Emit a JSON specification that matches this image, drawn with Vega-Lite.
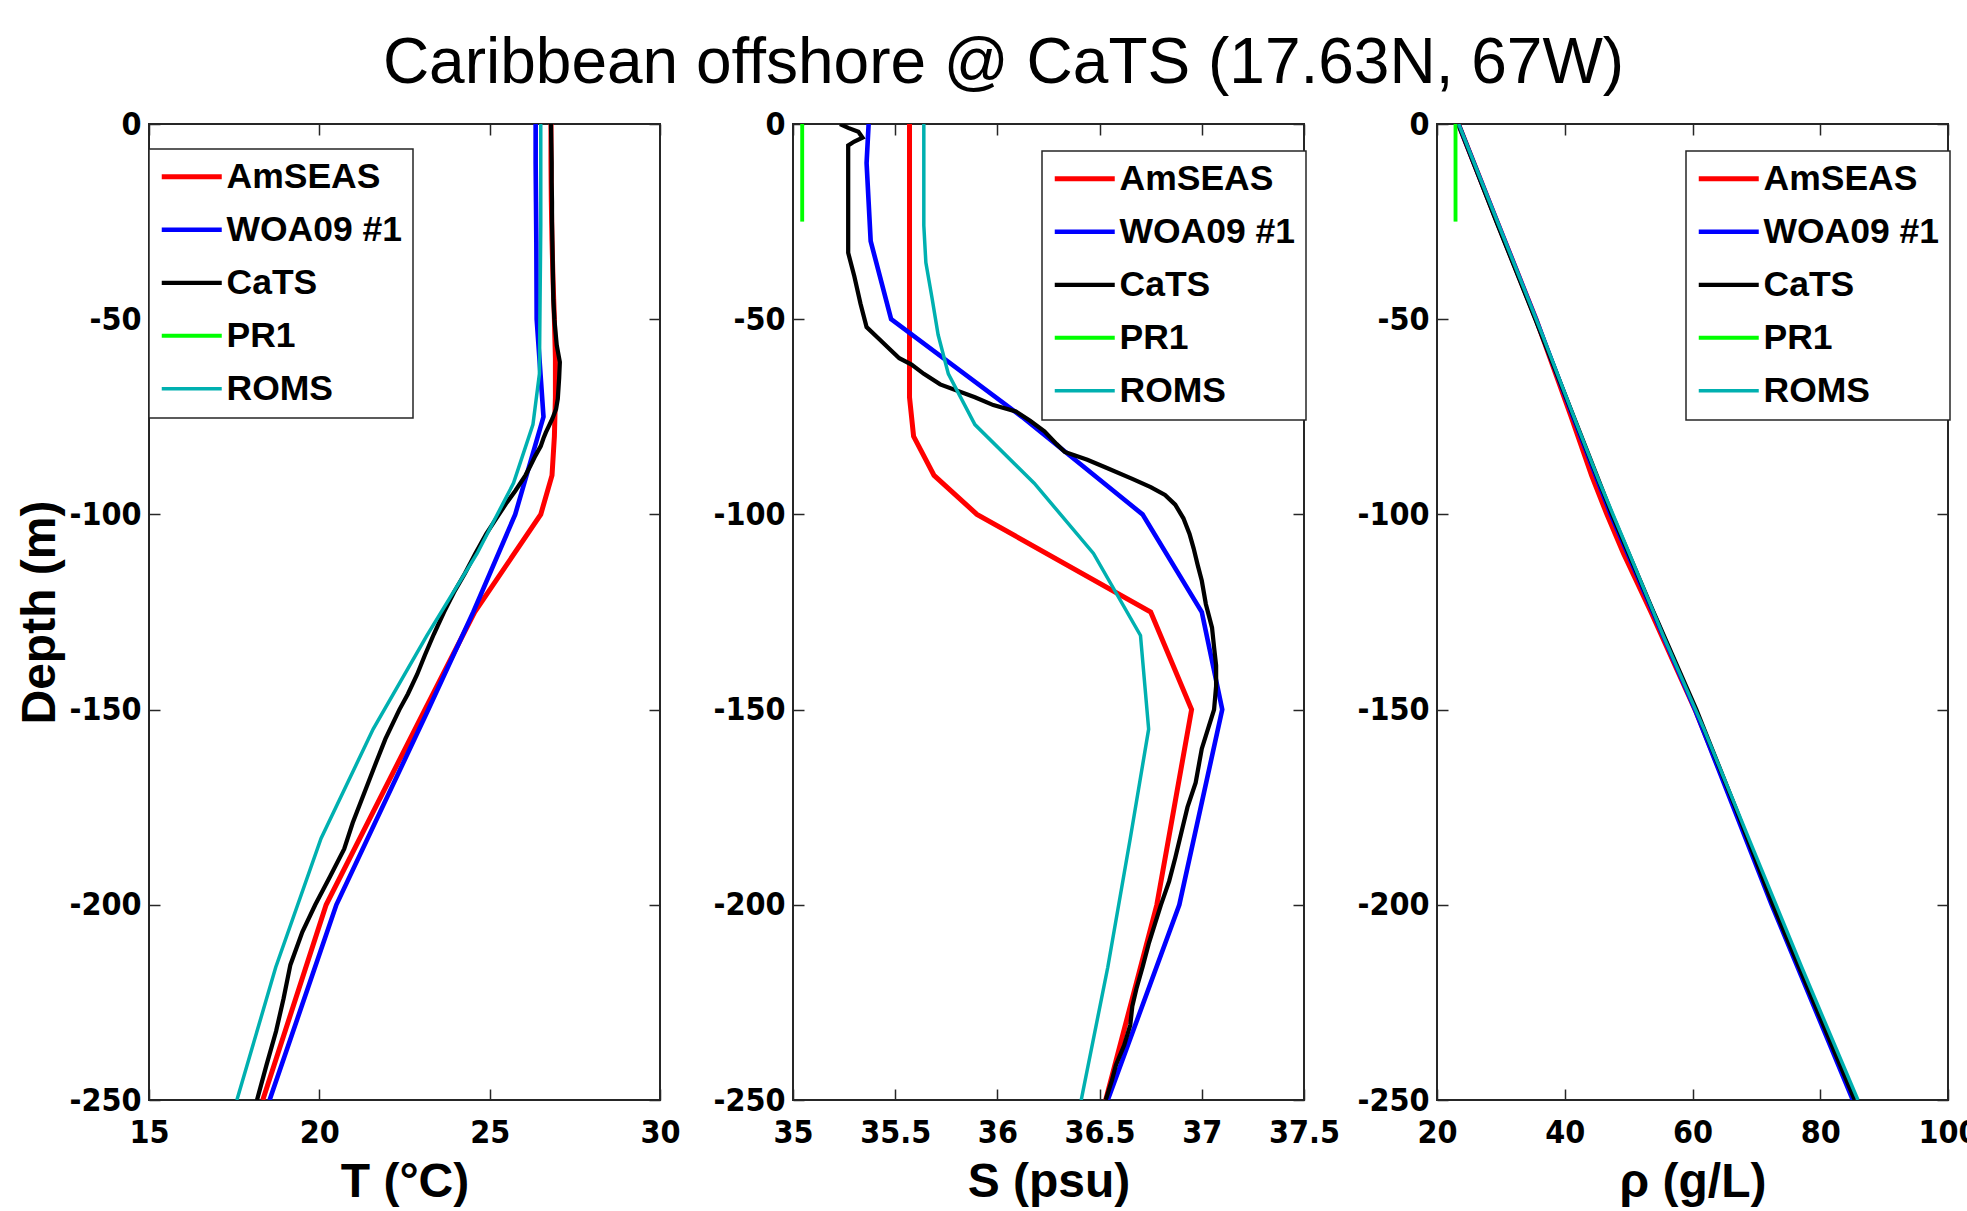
{
  "$schema": "https://vega.github.io/schema/vega-lite/v6.json",
  "padding": {"left": 15, "top": 32, "right": 0, "bottom": 0},
  "bounds": "flush",
  "spacing": 133,
  "title": {"text": "Caribbean offshore @ CaTS (17.63N, 67W)", "font": "Liberation Sans", "fontSize": 64, "fontWeight": "normal", "color": "#000", "anchor": "middle", "dx": 6, "offset": 11},
  "datasets": {
    "prof": [
      {"p":"T","s":"AmSEAS","d":0,"v":26.8},{"p":"T","s":"AmSEAS","d":-10,"v":26.8},{"p":"T","s":"AmSEAS","d":-20,"v":26.81},{"p":"T","s":"AmSEAS","d":-30,"v":26.83},{"p":"T","s":"AmSEAS","d":-40,"v":26.86},{"p":"T","s":"AmSEAS","d":-50,"v":26.9},{"p":"T","s":"AmSEAS","d":-60,"v":26.93},{"p":"T","s":"AmSEAS","d":-70,"v":26.93},{"p":"T","s":"AmSEAS","d":-80,"v":26.9},{"p":"T","s":"AmSEAS","d":-90,"v":26.83},{"p":"T","s":"AmSEAS","d":-100,"v":26.5},{"p":"T","s":"AmSEAS","d":-125,"v":24.56},{"p":"T","s":"AmSEAS","d":-150,"v":23.1},{"p":"T","s":"AmSEAS","d":-200,"v":20.2},{"p":"T","s":"AmSEAS","d":-250,"v":18.34},

      {"p":"T","s":"WOA09 #1","d":0,"v":26.35},{"p":"T","s":"WOA09 #1","d":-10,"v":26.35},{"p":"T","s":"WOA09 #1","d":-20,"v":26.36},{"p":"T","s":"WOA09 #1","d":-30,"v":26.37},{"p":"T","s":"WOA09 #1","d":-50,"v":26.38},{"p":"T","s":"WOA09 #1","d":-75,"v":26.58},{"p":"T","s":"WOA09 #1","d":-100,"v":25.75},{"p":"T","s":"WOA09 #1","d":-125,"v":24.52},{"p":"T","s":"WOA09 #1","d":-150,"v":23.2},{"p":"T","s":"WOA09 #1","d":-200,"v":20.5},{"p":"T","s":"WOA09 #1","d":-250,"v":18.54},

      {"p":"T","s":"CaTS","d":0,"v":26.8},{"p":"T","s":"CaTS","d":-5,"v":26.81},{"p":"T","s":"CaTS","d":-10,"v":26.82},{"p":"T","s":"CaTS","d":-15,"v":26.82},{"p":"T","s":"CaTS","d":-20,"v":26.83},{"p":"T","s":"CaTS","d":-25,"v":26.83},{"p":"T","s":"CaTS","d":-30,"v":26.84},{"p":"T","s":"CaTS","d":-35,"v":26.85},{"p":"T","s":"CaTS","d":-40,"v":26.86},{"p":"T","s":"CaTS","d":-45,"v":26.87},{"p":"T","s":"CaTS","d":-50,"v":26.9},{"p":"T","s":"CaTS","d":-53,"v":26.93},{"p":"T","s":"CaTS","d":-56.7,"v":26.97},{"p":"T","s":"CaTS","d":-61,"v":27.06},{"p":"T","s":"CaTS","d":-65,"v":27.04},{"p":"T","s":"CaTS","d":-70.4,"v":27.0},{"p":"T","s":"CaTS","d":-73,"v":26.95},{"p":"T","s":"CaTS","d":-75.5,"v":26.84},{"p":"T","s":"CaTS","d":-77.5,"v":26.73},{"p":"T","s":"CaTS","d":-79,"v":26.65},{"p":"T","s":"CaTS","d":-80.5,"v":26.58},{"p":"T","s":"CaTS","d":-82.5,"v":26.5},{"p":"T","s":"CaTS","d":-85,"v":26.34},{"p":"T","s":"CaTS","d":-87.5,"v":26.2},{"p":"T","s":"CaTS","d":-90,"v":26.05},{"p":"T","s":"CaTS","d":-94,"v":25.75},{"p":"T","s":"CaTS","d":-97,"v":25.5},{"p":"T","s":"CaTS","d":-100.7,"v":25.22},{"p":"T","s":"CaTS","d":-105,"v":24.9},{"p":"T","s":"CaTS","d":-110,"v":24.58},{"p":"T","s":"CaTS","d":-115,"v":24.28},{"p":"T","s":"CaTS","d":-120,"v":23.95},{"p":"T","s":"CaTS","d":-125,"v":23.66},{"p":"T","s":"CaTS","d":-130.7,"v":23.36},{"p":"T","s":"CaTS","d":-136,"v":23.1},{"p":"T","s":"CaTS","d":-141,"v":22.87},{"p":"T","s":"CaTS","d":-146,"v":22.6},{"p":"T","s":"CaTS","d":-150,"v":22.35},{"p":"T","s":"CaTS","d":-157.5,"v":21.94},{"p":"T","s":"CaTS","d":-165,"v":21.6},{"p":"T","s":"CaTS","d":-172.9,"v":21.25},{"p":"T","s":"CaTS","d":-179,"v":20.98},{"p":"T","s":"CaTS","d":-185.7,"v":20.73},{"p":"T","s":"CaTS","d":-193,"v":20.3},{"p":"T","s":"CaTS","d":-200,"v":19.88},{"p":"T","s":"CaTS","d":-207,"v":19.5},{"p":"T","s":"CaTS","d":-215.4,"v":19.15},{"p":"T","s":"CaTS","d":-224,"v":18.95},{"p":"T","s":"CaTS","d":-232.4,"v":18.73},{"p":"T","s":"CaTS","d":-241,"v":18.45},{"p":"T","s":"CaTS","d":-250,"v":18.17},

      {"p":"T","s":"ROMS","d":0,"v":26.5},{"p":"T","s":"ROMS","d":-8,"v":26.5},{"p":"T","s":"ROMS","d":-17,"v":26.5},{"p":"T","s":"ROMS","d":-26,"v":26.5},{"p":"T","s":"ROMS","d":-35.5,"v":26.49},{"p":"T","s":"ROMS","d":-44.5,"v":26.48},{"p":"T","s":"ROMS","d":-54,"v":26.47},{"p":"T","s":"ROMS","d":-64,"v":26.46},{"p":"T","s":"ROMS","d":-77,"v":26.27},{"p":"T","s":"ROMS","d":-92,"v":25.7},{"p":"T","s":"ROMS","d":-110,"v":24.63},{"p":"T","s":"ROMS","d":-131,"v":23.16},{"p":"T","s":"ROMS","d":-155,"v":21.58},{"p":"T","s":"ROMS","d":-183,"v":20.05},{"p":"T","s":"ROMS","d":-216,"v":18.72},{"p":"T","s":"ROMS","d":-250,"v":17.58},

      {"p":"S","s":"AmSEAS","d":0,"v":35.57},{"p":"S","s":"AmSEAS","d":-10,"v":35.57},{"p":"S","s":"AmSEAS","d":-20,"v":35.57},{"p":"S","s":"AmSEAS","d":-30,"v":35.57},{"p":"S","s":"AmSEAS","d":-40,"v":35.57},{"p":"S","s":"AmSEAS","d":-50,"v":35.57},{"p":"S","s":"AmSEAS","d":-60,"v":35.57},{"p":"S","s":"AmSEAS","d":-70,"v":35.57},{"p":"S","s":"AmSEAS","d":-80,"v":35.59},{"p":"S","s":"AmSEAS","d":-90,"v":35.69},{"p":"S","s":"AmSEAS","d":-100,"v":35.9},{"p":"S","s":"AmSEAS","d":-125,"v":36.75},{"p":"S","s":"AmSEAS","d":-150,"v":36.95},{"p":"S","s":"AmSEAS","d":-200,"v":36.78},{"p":"S","s":"AmSEAS","d":-250,"v":36.53},

      {"p":"S","s":"WOA09 #1","d":0,"v":35.37},{"p":"S","s":"WOA09 #1","d":-10,"v":35.36},{"p":"S","s":"WOA09 #1","d":-20,"v":35.37},{"p":"S","s":"WOA09 #1","d":-30,"v":35.38},{"p":"S","s":"WOA09 #1","d":-50,"v":35.48},{"p":"S","s":"WOA09 #1","d":-75,"v":36.12},{"p":"S","s":"WOA09 #1","d":-100,"v":36.71},{"p":"S","s":"WOA09 #1","d":-125,"v":37.0},{"p":"S","s":"WOA09 #1","d":-150,"v":37.1},{"p":"S","s":"WOA09 #1","d":-200,"v":36.89},{"p":"S","s":"WOA09 #1","d":-250,"v":36.54},

      {"p":"S","s":"CaTS","d":0,"v":35.23},{"p":"S","s":"CaTS","d":-1,"v":35.27},{"p":"S","s":"CaTS","d":-2,"v":35.32},{"p":"S","s":"CaTS","d":-3.5,"v":35.34},{"p":"S","s":"CaTS","d":-4.5,"v":35.3},{"p":"S","s":"CaTS","d":-5.5,"v":35.27},{"p":"S","s":"CaTS","d":-15,"v":35.27},{"p":"S","s":"CaTS","d":-25,"v":35.27},{"p":"S","s":"CaTS","d":-33,"v":35.27},{"p":"S","s":"CaTS","d":-39,"v":35.3},{"p":"S","s":"CaTS","d":-46,"v":35.33},{"p":"S","s":"CaTS","d":-52,"v":35.36},{"p":"S","s":"CaTS","d":-55,"v":35.42},{"p":"S","s":"CaTS","d":-58,"v":35.48},{"p":"S","s":"CaTS","d":-60,"v":35.52},{"p":"S","s":"CaTS","d":-61.6,"v":35.58},{"p":"S","s":"CaTS","d":-64,"v":35.64},{"p":"S","s":"CaTS","d":-66.7,"v":35.72},{"p":"S","s":"CaTS","d":-70,"v":35.89},{"p":"S","s":"CaTS","d":-72,"v":35.98},{"p":"S","s":"CaTS","d":-73.6,"v":36.09},{"p":"S","s":"CaTS","d":-76,"v":36.16},{"p":"S","s":"CaTS","d":-78.7,"v":36.23},{"p":"S","s":"CaTS","d":-82,"v":36.29},{"p":"S","s":"CaTS","d":-84,"v":36.33},{"p":"S","s":"CaTS","d":-86,"v":36.44},{"p":"S","s":"CaTS","d":-88,"v":36.53},{"p":"S","s":"CaTS","d":-90.9,"v":36.66},{"p":"S","s":"CaTS","d":-93,"v":36.75},{"p":"S","s":"CaTS","d":-95,"v":36.82},{"p":"S","s":"CaTS","d":-97.5,"v":36.87},{"p":"S","s":"CaTS","d":-101,"v":36.91},{"p":"S","s":"CaTS","d":-105,"v":36.94},{"p":"S","s":"CaTS","d":-108.7,"v":36.96},{"p":"S","s":"CaTS","d":-113,"v":36.98},{"p":"S","s":"CaTS","d":-117,"v":37.0},{"p":"S","s":"CaTS","d":-123,"v":37.02},{"p":"S","s":"CaTS","d":-129,"v":37.05},{"p":"S","s":"CaTS","d":-134,"v":37.06},{"p":"S","s":"CaTS","d":-138.7,"v":37.07},{"p":"S","s":"CaTS","d":-144,"v":37.07},{"p":"S","s":"CaTS","d":-150,"v":37.06},{"p":"S","s":"CaTS","d":-155,"v":37.03},{"p":"S","s":"CaTS","d":-160,"v":37.0},{"p":"S","s":"CaTS","d":-168.7,"v":36.97},{"p":"S","s":"CaTS","d":-175,"v":36.93},{"p":"S","s":"CaTS","d":-181.5,"v":36.9},{"p":"S","s":"CaTS","d":-188,"v":36.87},{"p":"S","s":"CaTS","d":-194,"v":36.84},{"p":"S","s":"CaTS","d":-200,"v":36.8},{"p":"S","s":"CaTS","d":-205,"v":36.77},{"p":"S","s":"CaTS","d":-210,"v":36.74},{"p":"S","s":"CaTS","d":-216,"v":36.71},{"p":"S","s":"CaTS","d":-221.5,"v":36.68},{"p":"S","s":"CaTS","d":-226,"v":36.66},{"p":"S","s":"CaTS","d":-230.8,"v":36.65},{"p":"S","s":"CaTS","d":-236,"v":36.62},{"p":"S","s":"CaTS","d":-241,"v":36.58},{"p":"S","s":"CaTS","d":-245,"v":36.56},{"p":"S","s":"CaTS","d":-250,"v":36.53},

      {"p":"S","s":"PR1","d":0,"v":35.045},{"p":"S","s":"PR1","d":-25,"v":35.045},

      {"p":"S","s":"ROMS","d":0,"v":35.64},{"p":"S","s":"ROMS","d":-8,"v":35.64},{"p":"S","s":"ROMS","d":-17,"v":35.64},{"p":"S","s":"ROMS","d":-26,"v":35.64},{"p":"S","s":"ROMS","d":-35.5,"v":35.65},{"p":"S","s":"ROMS","d":-44.5,"v":35.68},{"p":"S","s":"ROMS","d":-54,"v":35.71},{"p":"S","s":"ROMS","d":-64,"v":35.76},{"p":"S","s":"ROMS","d":-77,"v":35.89},{"p":"S","s":"ROMS","d":-92,"v":36.18},{"p":"S","s":"ROMS","d":-110,"v":36.47},{"p":"S","s":"ROMS","d":-131,"v":36.7},{"p":"S","s":"ROMS","d":-155,"v":36.74},{"p":"S","s":"ROMS","d":-183,"v":36.65},{"p":"S","s":"ROMS","d":-216,"v":36.54},{"p":"S","s":"ROMS","d":-250,"v":36.41},

      {"p":"R","s":"AmSEAS","d":0,"v":23.35},{"p":"R","s":"AmSEAS","d":-25,"v":29.4},{"p":"R","s":"AmSEAS","d":-50,"v":35.5},{"p":"R","s":"AmSEAS","d":-75,"v":41.0},{"p":"R","s":"AmSEAS","d":-90,"v":44.2},{"p":"R","s":"AmSEAS","d":-100,"v":46.6},{"p":"R","s":"AmSEAS","d":-110,"v":49.2},{"p":"R","s":"AmSEAS","d":-125,"v":53.5},{"p":"R","s":"AmSEAS","d":-150,"v":60.4},{"p":"R","s":"AmSEAS","d":-175,"v":66.6},{"p":"R","s":"AmSEAS","d":-200,"v":72.6},{"p":"R","s":"AmSEAS","d":-225,"v":79.0},{"p":"R","s":"AmSEAS","d":-250,"v":85.3},

      {"p":"R","s":"WOA09 #1","d":0,"v":23.35},{"p":"R","s":"WOA09 #1","d":-25,"v":29.4},{"p":"R","s":"WOA09 #1","d":-50,"v":35.5},{"p":"R","s":"WOA09 #1","d":-75,"v":41.3},{"p":"R","s":"WOA09 #1","d":-100,"v":47.2},{"p":"R","s":"WOA09 #1","d":-125,"v":53.8},{"p":"R","s":"WOA09 #1","d":-150,"v":60.4},{"p":"R","s":"WOA09 #1","d":-200,"v":72.4},{"p":"R","s":"WOA09 #1","d":-250,"v":85.1},

      {"p":"R","s":"CaTS","d":0,"v":23.35},{"p":"R","s":"CaTS","d":-25,"v":29.3},{"p":"R","s":"CaTS","d":-50,"v":35.4},{"p":"R","s":"CaTS","d":-75,"v":41.4},{"p":"R","s":"CaTS","d":-90,"v":45.0},{"p":"R","s":"CaTS","d":-100,"v":47.4},{"p":"R","s":"CaTS","d":-110,"v":50.0},{"p":"R","s":"CaTS","d":-125,"v":53.9},{"p":"R","s":"CaTS","d":-150,"v":60.6},{"p":"R","s":"CaTS","d":-175,"v":66.7},{"p":"R","s":"CaTS","d":-200,"v":72.6},{"p":"R","s":"CaTS","d":-225,"v":79.0},{"p":"R","s":"CaTS","d":-250,"v":85.4},

      {"p":"R","s":"PR1","d":0,"v":22.9},{"p":"R","s":"PR1","d":-25,"v":22.9},

      {"p":"R","s":"ROMS","d":0,"v":23.4},{"p":"R","s":"ROMS","d":-26,"v":29.7},{"p":"R","s":"ROMS","d":-54,"v":36.5},{"p":"R","s":"ROMS","d":-77,"v":41.9},{"p":"R","s":"ROMS","d":-92,"v":45.5},{"p":"R","s":"ROMS","d":-110,"v":50.1},{"p":"R","s":"ROMS","d":-131,"v":55.4},{"p":"R","s":"ROMS","d":-155,"v":61.8},{"p":"R","s":"ROMS","d":-183,"v":68.8},{"p":"R","s":"ROMS","d":-216,"v":77.1},{"p":"R","s":"ROMS","d":-250,"v":85.9}
    ]
  },
  "data": {"name": "prof"},
  "hconcat": [
    {
      "width": 511, "height": 976,
      "transform": [{"filter": "datum.p == 'T'"}],
      "layer": [
        {
          "mark": {"type": "line", "clip": true},
          "encoding": {
            "x": {"field": "v", "type": "quantitative", "scale": {"domain": [15, 30], "nice": false, "zero": false},
                  "axis": {"orient": "bottom", "values": [15, 20, 25, 30], "labelExpr": "'' + datum.value", "title": "T (°C)", "offset": -11, "tickSize": 11, "labelPadding": 17, "titlePadding": 10}},
            "y": {"field": "d", "type": "quantitative", "scale": {"domain": [-250, 0], "nice": false, "zero": false},
                  "axis": {"orient": "left", "values": [0, -50, -100, -150, -200, -250], "labelExpr": "'' + datum.value", "title": "Depth (m)", "offset": -11, "tickSize": 11, "labelPadding": 8, "titlePadding": 4}},
            "color": {"field": "s", "type": "nominal",
                      "scale": {"domain": ["AmSEAS", "WOA09 #1", "CaTS", "PR1", "ROMS"], "range": ["#ff0000", "#0000ff", "#000000", "#00ff00", "#00b0b0"]},
                      "legend": {"orient": "none", "legendX": 0, "legendY": 25, "title": null}},
            "strokeWidth": {"field": "s", "type": "nominal", "scale": {"domain": ["AmSEAS", "WOA09 #1", "CaTS", "PR1", "ROMS"], "range": [5, 3.5, 3.5, 4, 5]}, "legend": null},
            "order": {"field": "d", "type": "quantitative"}
          }
        },
        {
          "mark": {"type": "point", "opacity": 0},
          "encoding": {
            "x": {"field": "v", "type": "quantitative", "axis": {"orient": "top", "values": [15, 20, 25, 30], "labels": false, "title": null, "offset": -11, "tickSize": 11}},
            "y": {"field": "d", "type": "quantitative", "axis": {"orient": "right", "values": [0, -50, -100, -150, -200, -250], "labels": false, "title": null, "offset": -11, "tickSize": 11}}
          }
        }
      ],
      "resolve": {"axis": {"x": "independent", "y": "independent"}}
    },
    {
      "width": 511, "height": 976,
      "transform": [{"filter": "datum.p == 'S'"}],
      "layer": [
        {
          "mark": {"type": "line", "clip": true},
          "encoding": {
            "x": {"field": "v", "type": "quantitative", "scale": {"domain": [35, 37.5], "nice": false, "zero": false},
                  "axis": {"orient": "bottom", "values": [35, 35.5, 36, 36.5, 37, 37.5], "labelExpr": "'' + datum.value", "title": "S (psu)", "offset": -11, "tickSize": 11, "labelPadding": 17, "titlePadding": 10}},
            "y": {"field": "d", "type": "quantitative", "scale": {"domain": [-250, 0], "nice": false, "zero": false},
                  "axis": {"orient": "left", "values": [0, -50, -100, -150, -200, -250], "labelExpr": "'' + datum.value", "title": null, "offset": -11, "tickSize": 11, "labelPadding": 8}},
            "color": {"field": "s", "type": "nominal",
                      "scale": {"domain": ["AmSEAS", "WOA09 #1", "CaTS", "PR1", "ROMS"], "range": ["#ff0000", "#0000ff", "#000000", "#00ff00", "#00b0b0"]},
                      "legend": {"orient": "none", "legendX": 249, "legendY": 27, "title": null}},
            "strokeWidth": {"field": "s", "type": "nominal", "scale": {"domain": ["AmSEAS", "WOA09 #1", "CaTS", "PR1", "ROMS"], "range": [5, 3.5, 3.5, 4, 5]}, "legend": null},
            "order": {"field": "d", "type": "quantitative"}
          }
        },
        {
          "mark": {"type": "point", "opacity": 0},
          "encoding": {
            "x": {"field": "v", "type": "quantitative", "axis": {"orient": "top", "values": [35, 35.5, 36, 36.5, 37, 37.5], "labels": false, "title": null, "offset": -11, "tickSize": 11}},
            "y": {"field": "d", "type": "quantitative", "axis": {"orient": "right", "values": [0, -50, -100, -150, -200, -250], "labels": false, "title": null, "offset": -11, "tickSize": 11}}
          }
        }
      ],
      "resolve": {"axis": {"x": "independent", "y": "independent"}}
    },
    {
      "width": 511, "height": 976,
      "transform": [{"filter": "datum.p == 'R'"}],
      "layer": [
        {
          "mark": {"type": "line", "clip": true},
          "encoding": {
            "x": {"field": "v", "type": "quantitative", "scale": {"domain": [20, 100], "nice": false, "zero": false},
                  "axis": {"orient": "bottom", "values": [20, 40, 60, 80, 100], "labelExpr": "'' + datum.value", "title": "ρ (g/L)", "offset": -11, "tickSize": 11, "labelPadding": 17, "titlePadding": 10}},
            "y": {"field": "d", "type": "quantitative", "scale": {"domain": [-250, 0], "nice": false, "zero": false},
                  "axis": {"orient": "left", "values": [0, -50, -100, -150, -200, -250], "labelExpr": "'' + datum.value", "title": null, "offset": -11, "tickSize": 11, "labelPadding": 8}},
            "color": {"field": "s", "type": "nominal",
                      "scale": {"domain": ["AmSEAS", "WOA09 #1", "CaTS", "PR1", "ROMS"], "range": ["#ff0000", "#0000ff", "#000000", "#00ff00", "#00b0b0"]},
                      "legend": {"orient": "none", "legendX": 249, "legendY": 27, "title": null}},
            "strokeWidth": {"field": "s", "type": "nominal", "scale": {"domain": ["AmSEAS", "WOA09 #1", "CaTS", "PR1", "ROMS"], "range": [5, 3.5, 3.5, 4, 5]}, "legend": null},
            "order": {"field": "d", "type": "quantitative"}
          }
        },
        {
          "mark": {"type": "point", "opacity": 0},
          "encoding": {
            "x": {"field": "v", "type": "quantitative", "axis": {"orient": "top", "values": [20, 40, 60, 80, 100], "labels": false, "title": null, "offset": -11, "tickSize": 11}},
            "y": {"field": "d", "type": "quantitative", "axis": {"orient": "right", "values": [0, -50, -100, -150, -200, -250], "labels": false, "title": null, "offset": -11, "tickSize": 11}}
          }
        }
      ],
      "resolve": {"axis": {"x": "independent", "y": "independent"}}
    }
  ],
  "resolve": {"scale": {"color": "independent", "strokeWidth": "independent"}, "legend": {"color": "independent"}},
  "config": {
    "view": {"stroke": "#262626", "strokeWidth": 2},
    "axis": {
      "grid": false, "domain": false,
      "labelFont": "DejaVu Sans Condensed, Liberation Sans Narrow, Liberation Sans, sans-serif", "labelFontWeight": "bold", "labelFontSize": 32, "labelColor": "#000",
      "labelFlush": false, "labelOverlap": false, "labelBound": false,
      "tickColor": "#262626", "tickWidth": 1.5,
      "titleFont": "Liberation Sans", "titleFontWeight": "bold", "titleFontSize": 48, "titleColor": "#000"
    },
    "legend": {
      "strokeColor": "#262626", "strokeWidth": 1.5, "fillColor": "#ffffff", "padding": 10,
      "labelFont": "Liberation Sans", "labelFontWeight": "bold", "labelFontSize": 35.5, "labelColor": "#000",
      "symbolType": "M-1,0H3", "symbolSize": 900, "symbolStrokeWidth": 4.5, "labelOffset": 32, "rowPadding": 16, "labelLimit": 400
    }
  }
}
